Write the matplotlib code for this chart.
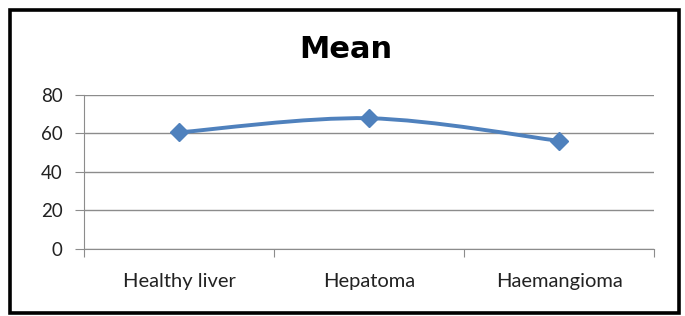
import matplotlib.pyplot as plt
from matplotlib.path import Path
from matplotlib.patches import PathPatch, Rectangle
import numpy as np

# data
categories = ["Healthy liver", "Hepatoma", "Haemangioma"]
mean_values = [60.4, 67.7, 56.0]
y_ticks = [0, 20, 40, 60, 80]

LINE_COLOR = "#4F81BD"
GRID_COLOR = "#8C8C8C"
plt.rcParams['font.family'] = ['Lato', 'DejaVu Sans']


def smooth_path(xs, ys, tension=1.0 / 6):
    # Excel-like smoothed line: cubic bezier segments through each point
    pts = list(zip(xs, ys))
    verts = [pts[0]]
    codes = [Path.MOVETO]
    n = len(pts)
    for i in range(n - 1):
        p0 = pts[i - 1] if i > 0 else pts[i]
        p1 = pts[i]
        p2 = pts[i + 1]
        p3 = pts[i + 2] if i + 2 < n else pts[i + 1]
        c1 = (p1[0] + (p2[0] - p0[0]) * tension, p1[1] + (p2[1] - p0[1]) * tension)
        c2 = (p2[0] - (p3[0] - p1[0]) * tension, p2[1] - (p3[1] - p1[1]) * tension)
        verts += [c1, c2, p2]
        codes += [Path.CURVE4] * 3
    return Path(verts, codes)


W, H = 685, 316
fig = plt.figure(figsize=(W / 100, H / 100), dpi=100)

# outer chart border
fig.patches.append(Rectangle((10 / W, 3 / H), 669 / W, 303 / H, transform=fig.transFigure,
                             fill=False, edgecolor="black", linewidth=2.6))

ax = fig.add_axes([84 / W, 67 / H, 570 / W, 154.5 / H])
x = np.arange(len(categories))

ax.add_patch(PathPatch(smooth_path(x, mean_values), fill=False,
                       edgecolor=LINE_COLOR, linewidth=2.8, zorder=3))
ax.plot(x, mean_values, linestyle="none", marker="D", markersize=9.5,
        color=LINE_COLOR, zorder=4, clip_on=False)

ax.set_xlim(-0.5, 2.5)
ax.set_ylim(0, 80)
ax.set_yticks(y_ticks)
ax.yaxis.grid(True, color=GRID_COLOR, linewidth=1)
ax.set_axisbelow(True)

# category ticks sit between categories
ax.set_xticks([-0.5, 0.5, 1.5, 2.5])
ax.set_xticklabels([])
ax.set_xticks(x, minor=True)
ax.set_xticklabels(categories, minor=True, fontsize=14.5, color="#222222")
ax.tick_params(axis="x", which="minor", length=0, pad=17)
ax.tick_params(axis="x", which="major", length=6, color=GRID_COLOR, direction="out")
ax.tick_params(axis="y", length=6.5, color=GRID_COLOR, labelsize=13.5, labelcolor="#222222", pad=9)

for side in ["top", "right"]:
    ax.spines[side].set_visible(False)
ax.spines["left"].set_color(GRID_COLOR)
ax.spines["bottom"].set_color(GRID_COLOR)

fig.text(346 / W, 1 - 49 / H, "Mean", ha="center", va="center",
         fontsize=22, fontweight="bold", family="DejaVu Sans")

fig.savefig("out.png", dpi=100)
